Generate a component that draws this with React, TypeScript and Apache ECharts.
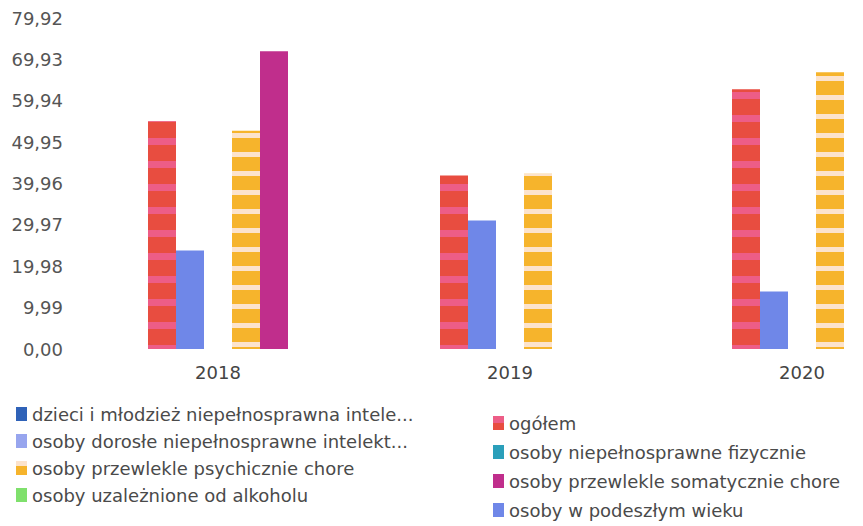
import React, { useEffect, useRef } from "react";
import * as echarts from "echarts";

const years = ["2018", "2019", "2020"];

const nameDzieci = "dzieci i młodzież niepełnosprawna intelektualnie";
const nameDorosle = "osoby dorosłe niepełnosprawne intelektualnie";
const namePsych = "osoby przewlekle psychicznie chore";
const nameAlko = "osoby uzależnione od alkoholu";
const nameOgolem = "ogółem";
const nameFiz = "osoby niepełnosprawne fizycznie";
const nameSomat = "osoby przewlekle somatycznie chore";
const nameWiek = "osoby w podeszłym wieku";

const legendLabels: Record<string, string> = {
  [nameDzieci]: "dzieci i młodzież niepełnosprawna intele...",
  [nameDorosle]: "osoby dorosłe niepełnosprawne intelekt...",
};

const ogolemValues = [55.0, 41.9, 62.7];
const wiekValues = [23.8, 31.0, 13.9];
const fizValues: (number | null)[] = [null, null, null];
const psychValues = [52.7, 42.3, 66.8];
const somatValues: (number | null)[] = [71.9, null, null];
const dzieciValues: (number | null)[] = [null, null, null];
const dorosleValues: (number | null)[] = [null, null, null];
const alkoValues: (number | null)[] = [null, null, null];

const yTicks = ["0,00", "9,99", "19,98", "29,97", "39,96", "49,95", "59,94", "69,93", "79,92"];
const yStep = 9.99;
const yMax = 79.92;

const leftLegend = [nameDzieci, nameDorosle, namePsych, nameAlko];
const rightLegend = [nameOgolem, nameFiz, nameSomat, nameWiek];

export default function App() {
  const ref = useRef<HTMLDivElement>(null);
  useEffect(() => {
    if (!ref.current) return;
    const chart = echarts.init(ref.current, null, { renderer: "svg" });
    const font = "DejaVu Sans";
    const legendCommon = {
      orient: "vertical" as const,
      icon: "rect",
      itemWidth: 11,
      itemHeight: 14,
      padding: 0,
      selectedMode: false,
      textStyle: { fontSize: 18, fontFamily: font, color: "#4a4a4a", lineHeight: 18 },
      formatter: (n: string) => legendLabels[n] ?? n,
    };
    const bar = (name: string, data: (number | null)[], color: any, extra: any = {}) => ({
      type: "bar",
      name,
      data,
      barWidth: 28,
      barGap: "0%",
      itemStyle: { color, ...(extra.itemStyle || {}) },
      ...(extra.stack ? { stack: extra.stack } : {}),
    });
    chart.setOption({
      animation: false,
      backgroundColor: "#ffffff",
      grid: { left: 72, right: -85, top: 18, bottom: 177, outerBoundsMode: "none", containLabel: false },
      legend: [
        { ...legendCommon, left: 16, top: 405, itemGap: 9, data: leftLegend },
        { ...legendCommon, left: 493, top: 414, itemGap: 11, data: rightLegend },
      ],
      xAxis: {
        type: "category",
        data: years,
        axisLine: { show: false },
        axisTick: { show: false },
        axisLabel: { fontSize: 18, fontFamily: font, color: "#444", margin: 14 },
      },
      yAxis: {
        type: "value",
        min: 0,
        max: yMax,
        interval: yStep,
        axisLine: { show: false },
        axisTick: { show: false },
        splitLine: { show: false },
        axisLabel: {
          fontSize: 18,
          fontFamily: font,
          color: "#555",
          margin: 9,
          formatter: (v: number) => {
            const i = Math.round(v / yStep);
            return yTicks[i] ?? v.toFixed(2).replace(".", ",");
          },
        },
      },
      series: [
        bar(nameOgolem, ogolemValues, "#e84d40", {
          itemStyle: {
            decal: {
              symbol: "rect",
              symbolSize: 1,
              rotation: 0,
              dashArrayX: [1, 0],
              dashArrayY: [7, 16],
              color: "rgba(240,100,165,0.7)",
            },
          },
        }),
        bar(nameWiek, wiekValues, "#6f87e8"),
        bar(nameFiz, fizValues, "#2a9fba", { stack: "s3" }),
        bar(nameDzieci, dzieciValues, "#2f62b8", { stack: "s3" }),
        bar(nameDorosle, dorosleValues, "#97a5ee", { stack: "s3" }),
        bar(nameAlko, alkoValues, "#7fe06c", { stack: "s3" }),
        bar(namePsych, psychValues, "#f6b42c", {
          itemStyle: {
            decal: {
              symbol: "rect",
              symbolSize: 1,
              rotation: 0,
              dashArrayX: [1, 0],
              dashArrayY: [5, 14],
              color: "rgba(253,232,222,0.9)",
            },
          },
        }),
        bar(nameSomat, somatValues, "#c02e8c"),
      ],
    });
    return () => chart.dispose();
  }, []);
  return (
    <div
      ref={ref}
      style={{ position: "absolute", left: 0, top: 0, width: 863, height: 526, background: "#fff" }}
    />
  );
}
